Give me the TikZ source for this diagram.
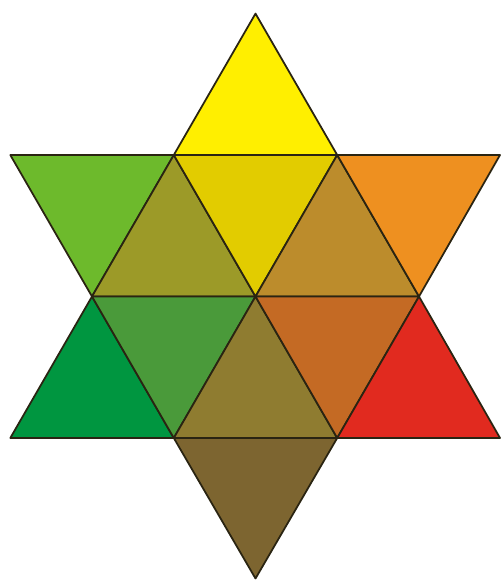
\documentclass[tikz,border=0pt]{standalone}
\usepackage{xcolor}
\usepackage{tikz}
\definecolor{stryellow}{HTML}{FFEF00}
\definecolor{strgold}{HTML}{E2CC00}
\definecolor{strlime}{HTML}{6DBA2C}
\definecolor{strolive}{HTML}{9C9A28}
\definecolor{strochre}{HTML}{BC8C2C}
\definecolor{strorange}{HTML}{EE9020}
\definecolor{strgreen}{HTML}{009640}
\definecolor{strmoss}{HTML}{4A9A3A}
\definecolor{strbronze}{HTML}{8F7C30}
\definecolor{strrust}{HTML}{C46A24}
\definecolor{strred}{HTML}{E12A1F}
\definecolor{strbrown}{HTML}{7D6530}
\definecolor{strline}{HTML}{2A2412}

\begin{document}
\begin{tikzpicture}[
      x=0.02cm, y=-0.02cm,
      tri/.style={draw=strline, line width=1pt, line join=round}
    ]
    \useasboundingbox (0,0) rectangle (501,580);

    % corner points of the grid
    \coordinate (top) at (255.5,13.6);
    \coordinate (a1) at (10.3,155);
    \coordinate (a2) at (173.8,155);
    \coordinate (a3) at (337.2,155);
    \coordinate (a4) at (500,155);
    \coordinate (b1) at (92,296.5);
    \coordinate (b2) at (255.5,296.5);
    \coordinate (b3) at (419,296.5);
    \coordinate (c1) at (10.3,438);
    \coordinate (c2) at (173.8,438);
    \coordinate (c3) at (337.2,438);
    \coordinate (c4) at (500,438);
    \coordinate (bot) at (255.5,578.5);

    % upper point
    \filldraw[tri, fill=stryellow] (top) -- (a2) -- (a3) -- cycle;

    % first band
    \filldraw[tri, fill=strlime] (a1) -- (a2) -- (b1) -- cycle;
    \filldraw[tri, fill=strolive] (b1) -- (a2) -- (b2) -- cycle;
    \filldraw[tri, fill=strgold] (a2) -- (a3) -- (b2) -- cycle;
    \filldraw[tri, fill=strochre] (b2) -- (a3) -- (b3) -- cycle;
    \filldraw[tri, fill=strorange] (a3) -- (a4) -- (b3) -- cycle;

    % second band
    \filldraw[tri, fill=strgreen] (b1) -- (c1) -- (c2) -- cycle;
    \filldraw[tri, fill=strmoss] (b1) -- (b2) -- (c2) -- cycle;
    \filldraw[tri, fill=strbronze] (c2) -- (b2) -- (c3) -- cycle;
    \filldraw[tri, fill=strrust] (b2) -- (b3) -- (c3) -- cycle;
    \filldraw[tri, fill=strred] (b3) -- (c3) -- (c4) -- cycle;

    % lower point
    \filldraw[tri, fill=strbrown] (c2) -- (c3) -- (bot) -- cycle;
  \end{tikzpicture}
\end{document}
